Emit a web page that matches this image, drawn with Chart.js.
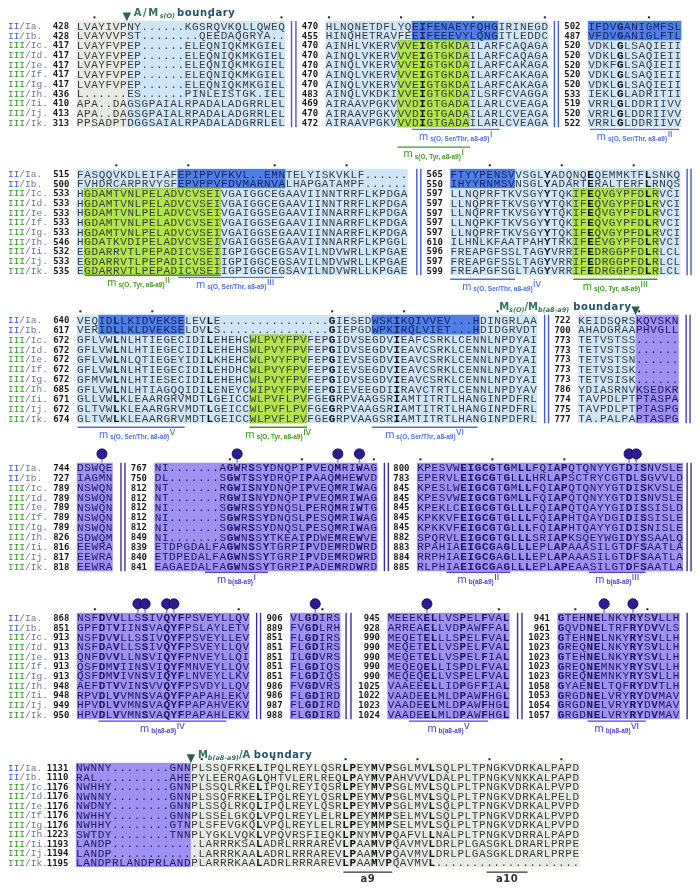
<!DOCTYPE html>
<html><head><meta charset="utf-8">
<script src="https://cdn.jsdelivr.net/npm/chart.js@4/dist/chart.umd.min.js"></script>
<style>html,body{margin:0;padding:0;background:#fff}#wrap{width:700px;height:890px;position:relative}</style>
</head><body><div id="wrap"><canvas id="c"></canvas></div>
<script>
// ---------------- DATA ----------------
const rowNames = ["II/Ia.","II/Ib.","III/Ic.","III/Id.","III/Ie.","III/If.","III/Ig.","III/Ih.","III/Ii.","III/Ij.","III/Ik."];

const b1s1Start = [428,428,417,417,417,417,417,436,410,413,313];
const b1s1Seq = ["LVAYIVPNY......KGSRQVKQLLQWEQ","LVAYVVPST........QEEDAQGRYA..","LVAYFVPEP......ELEQNIQKMKGIEL","LVAYFVPEP......ELEQNIQKMKGIEL","LVAYFVPEP......ELEQNIQKMKGIEL","LVAYFVPEP......ELEQNIQKMKGIEL","LVAYFVPEP......ELEQNIQKMKGIEL","L......ES......PINLEISTGK.IEL","APA..DAGSGPAIALRPADALADGRRLEL","APA..DAGSGPAIALRPADALADGRRLEL","PPSADPTDGGSAIALRPADALADGRRLEL"];
const b1s2Start = [470,455,470,470,470,470,470,483,469,470,472];
const b1s2Seq = ["HLNQNETDFLYQEIFENAEYFQHGIRINEGD","HINQHETRAVFEEIFEEEVYLQNGITLEDDC","AINHLVKERVVVEIGTGKDAILARFCAQAGA","AINQLVKERVVVEIGTGKDAILARFCAQAGA","AINQLVKERVVVEIGTGKDAILARFCAKAGA","AINQLVKERVVVEIGTGKDAILARFCAKAGA","AINQLVKERVVVEIGTGKDAILARFCAKAGA","AINQLVKDKIVVEIGTGKDAILSRFCVAGGA","AIRAAVPGKVVVDIGTGADAILARLCVEAGA","AIRAAVPGKVVVDIGTGADAILARLCVEAGA","AIRAAVPGKVVVDIGTGADAILARLCVEAGA"];
const b1s3Start = [502,487,520,520,520,520,520,533,519,520,522];
const b1s3Seq = ["IFDVGANIGMFSL","VFDVGANIGLFTL","VDKLGLSAQIEII","VDKLGLSAQIEII","VDKFGLSAQIEII","VDKLGLSAQIEII","VDKLGLSAQIEII","IEKLGLADRITII","VRRLGLDDRIIVV","VRRLGLDDRIIVV","VRRLGLDDRIIVV"];

const b2s1Start = [515,500,533,533,533,533,533,546,532,533,535];
const b2s1Seq = ["FASQQVKDLEIFAFEPIPPVFKVL..EMNTELYISKVKLF......","FVHDRCARPRVYSFEPVPPVFDVMARNVALHAPGATAMPF......","HGDAMTVNLPELADVCVSEIVGAIGGCEGAAVIINNTRRFLKPDGA","HGDAMTVNLPELADVCVSEIVGAIGGCEGAAVIINNTRRFLKPDGA","HGDAMTVNLPELADVCVSEIVGAIGGSEGAAVIINNARRFLKPDGA","HGDAMTVNLPELADVCVSEIVGAIGGSEGAAVIINNARRFLKPDGA","HGDAMTVNLPELADVCVSEIVGAIGGSEGAAVIINNARRFLKPDGA","HGDATKVDIPELADVCVSEIVGAIGGSEGAAVIINNARRFLKPGGL","EGDARRVTLPEPADICVSEIIGPIGGCEGSAVILNDVWRLLKPGAE","EGDARRVTLPEPADICVSEIIGPIGGCEGSAVILNDVWRLLKPGAE","EGDARRVTLPEPADICVSEIIGPIGGCEGSAVILNDVWRLLKPGAE"];
const b2s2Start = [565,550,597,597,597,597,597,610,596,597,599];
const b2s2Seq = ["FTYYPENSVVSGLYADQNQEQEMMKTFLSNKQ","IHYYRNMSVNSGLYADARTERALTERFLRNQS","LLNQPRFTKVSGYYTQKIFEQVGYPFDLRVCI","LLNQPRFTKVSGYYTQKIFEQVGYPFDLRVCI","LLNQPRFTKVSGYYTQKIFEQVGYPFDLRVCI","LLNQPKFTKVSGYYTQKIFEQVGYPFDLRVCI","LLNQPRFTKVSGYYTQKIFEQVGYPFDLRVCI","ILHNLKFAATPAHYTRKIFEEVGYPFDLRVCI","FREAPGFSSLTAGYVRRIFEDRGGPFDLRLCL","FREAPGFSSLTAGYVRRIFEDRGGPFDLRLCL","FREAPGFSGLTAGYVRRIFEDRGGPFDLRLCL"];

const b3s1Start = [640,617,672,672,672,672,672,685,671,672,674];
const b3s1Seq = ["VEQIDLLKIDVEKSELEVLE...............GIESEDWSKIKQIVVEV...HDINGRLAA","VERIDLLKLDVEKSELDVLS...............GIEPGDWPKIRQLVIET...HDIDGRVDT","GFLVWLNLHTIEGECIDILEHEHCWLPVYFPVFEPGIDVSEGDVIEAFCSRKLCENNLNPDYAI","GFLVWLNLHTIEGECIDILEHEHSWLPVYFPVFEPGIDVSEGDVIEAVCSRKLCENNLNPDYAI","GFLVWLNLQTIEGEYIDILKHEHCWLPVYFPVFEPGIEVSEGDVIEAVCSRKLCENNLNPDYAI","GFLVWLNLHTIEGECIDILEHDHCWLPVYFPVFEPGIEVSEGDVIEAVCSRKLCENNLNPDYAI","GFMVWLNLHTIESECIDILEHEHCWLPVYFPVFEPGIDVSEGDVIEAVCSRKLCENNLNPDYAI","GFLVWLNLHTIAGQQIDILENEYCWIPVYFPVFEPGIEVEEGDIIRAVCTRTLCENNLNPDYAV","GLLVWLKLEAARGRVMDTLGEICCWLPVFLPVFGEGRPVAAGSRIAMTITRTLHANGINPDFRL","GLTVWLKLEAARGRVMDTLGEICCWLPVFLPVFGEGRPVAAGSRIAMTITRTLHANGINPDFRL","GLTVWLKLEAARGRVMDTLGEICCWLPVFLPVFGEGRPVAAGSRIAMTITRTLHANGINPDFRL"];
const b3s2Start = [722,700,773,773,773,773,773,786,774,775,777];
const b3s2Seq = ["KEIDSQRSKQVSKN","AHADGRAAPHVGLL","TETVSTSS......","TETVSTSS......","TETVSTSN......","TETVSISK......","TETVSISK......","YDIASRNVKSEDKR","TAVPDLPTPTASPA","TAVPDLPTPTASPG","TA.PALPAPTASPG"];

const b4s1Start = [744,727,789,789,789,789,789,826,816,817,818];
const b4s1Seq = ["DSWQE","IAGMN","NSWQN","NSWQN","NSWQN","NSWQN","NSWQN","SDWQM","EEWRA","EEWRA","EEWRA"];
const b4s2Start = [767,750,812,812,812,812,812,849,839,840,841];
const b4s2Seq = ["NI.......AGWRSSYDNQPIPVEQMRIWAG","DL.......SGWTSSYDRQPIPAAQMHEWVD","NT.......RGWISNYDNQPIPVEQMRIWAG","NT.......RGWISNYDNQPIPVEQMRIWAG","NI.......SGWRSSYDNQSLPERQMRIWTG","NI.......SGWRSSYDNQSLPESQMRIWAG","NI.......SGWRSSYDNQSLPESQMRIWAG","NI.......SGWNSSYTKEAIPDWEMREWVE","ETDPGDALFAGWNSSYTGRPIPVDEMRDWRD","ETDPEDALFAGWNSSYTGRPIPVDEMRDWRD","EAGAEDALFAGWNSSYTGRPIPADEMRDWRD"];
const b4s3Start = [800,783,845,845,845,845,845,882,883,884,885];
const b4s3Seq = ["KPESVWEIGCGTGMLLFQIAPQTQNYYGTDISNVSLE","EPERVLEIGCGTGLLLHRLAPSCTRYCGTDLSGVVLD","KPESLWEIGCGTGMLLFQIAPQTQNYYGTDISKVSLE","KPESVWEIGCGTGMLLFQIAPQTQNYYGTDISNVSLE","KPEKLCEIGCGTGLLLFQIAPQTQAYYGIDISSISLD","KPKKVFEIGCGTGLLLFQIAPHTQAYDGIDISSISLE","KPKKVFEIGCGTGLLLFQIAPHTQAYYGIDISNISLE","SPQRVLEIGCGTGLLLSRIAPKSQEYWGIDYSSAALQ","RPAHIAEIGCGAGLLLEPLAPAAASILGTDFSAATLA","RRPHIAEIGCGAGLLLEPLAPAAASILGTDFSAATLA","RLPHIAEIGCGAGLLLEPLAPEAASILGTDFSAATLA"];

const b5s1Start = [868,851,913,913,913,913,913,948,948,949,950];
const b5s1Seq = ["NSFDVVLLSSIVQYFPSVEYLLQV","GPFDTVIINSVAQYFPSLAYLETV","NSFDVVLLSSIVQYFPSVEYLLEV","NSFDAVLLSSIVQYFPSVEYLLQV","QNFDVVLLNSVIQYFPNVEYLLQI","QSFDMVIINSVIQYFMNVEYLLQV","QSFDMVIVNSVIQYFLNVEYLLKV","AEFDTVVINSVVQYFPSVDYLLQV","RPVDLVVMNSVAQYFPAPAHLEKV","HPVDLVVMNSVAQYFPAPAHVEKV","HPVDLVVMNSVAQYFPAPAHLEKV"];
const b5s2Start = [906,889,851,851,851,851,851,986,986,987,988];
const b5s2Seq = ["VLGDIRS","FVGDLRH","FLGDIRS","FLGDIRS","ILGDVRS","FLGDIQS","FLGDIQS","FVGDVRS","FLGDIRD","FLGDIRD","FLGDIRD"];
const b5s3Start = [945,928,990,990,990,990,990,1025,1022,1023,1024];
const b5s3Seq = ["MEEEKELLVSPELFVAL","ARREAELLVDPAWFFAL","MEQETELLLSPELFVAL","MEQETELLVSPELFVAL","MEQETELLVSPELFIAL","MEQEQELLISPDLFVAL","MEQEQELLVSPELFVAL","VAAEEELLIDPGFFIAL","VAADEELMLDPAWFHGL","VAADEELMLDPAWFHGL","VAADEELMLDPAWFHGL"];
const b5s4Start = [941,961,1023,1023,1023,1023,1023,1058,1053,1054,1057];
const b5s4Seq = ["GTEHNELNKYRYSVLLH","GQVDNELTRFRYDVVLS","GTEHNELNKYRYSVLLH","GREQNELNKYRYSVLLH","GTEHNELNKYRYSVLLH","GREQNEMNKYRYSVLLH","GREQNEMNKYRYSVLLH","GYAENELTQFRYDVTLH","GRGDNELVRYRYDVMAV","GRGDNELVRYRYDVMAV","GRGDNELVRYRYDVMAV"];

const b6Start = [1131,1110,1176,1176,1176,1176,1176,1223,1193,1194,1195];
const b6Seq = ["NWNNY........GNNPLSSQFRKELIPQLREYLQSRLPEYMVPSGLMVLSQLPLTPNGKVDRKALPAPD","RAL..........AHEPYLEERQAGLQHTVLERLREQLPAYMVPAHVVVLDALPLTPNGKVNKKALPAPD","NWHHY........GNNPLSSQLRKELIPQLREYIQSRLPEYMVPSGLMVLSQLPLTPNGKVDRKALPVPD","NWNNY........GNNPLSSQFRKELIPQLREYLQSRLPEYMVPSGLMVLSQLPLTPNGKVDRKALPELD","NWDNY........GNNPLSSQLRKQLIPQLREYLQSRLPEYMVPSGLMVLSQLPLTPNGKVDRKALPVPD","NWHHY........GNNPLSSELGKQLVPQLREYLELRLPEYMMPSELMVLSQLPLTPNGKVDRKALPVPD","NWHHY........GTNPLSFEVGKQLVPQLREYLELRLPEYMMPSELMVLSQLPLTPNGKVDRKALPVPD","SWTDY........TNNPLYGKLVQKLVPQVRSFIEQKLPNYMVPQAFVLLNALPLTPNGKVDRRALPAPD","LANDP............LARRRKSALADRLRRRAREVLPAAMVPQAVMVLDRLPLGASGKLDRARLPRPE","LANDP............LARRRKAALADRLRRRAREVLPAAMVPQAVMVLDRLPLGASGKLDRARLPRPE","LANDPRLANDPRLANDPLARRRKAALADRLRRRAREVLPAAMVPQAVMVL...................."];

// conserved (bold) columns and modification pins, per segment
const boldB1S2 = [13], boldB1S3 = [4], boldB2S2 = [13,19,27], boldB3S1 = [5,18,35,44];
const boldB4S2 = [10,11,13,15,21,25,28], boldB4S3 = [6,7,8,9,10,12,14,15,19,20,29,31];
const boldB5S1 = [3,5,9,12,13,14], boldB5S2 = [2,3], boldB5S3 = [5,6,10,13,16], boldB5S4 = [0,4,5,10,11,13];
const boldB6 = [25,37,38,41,43,49];
const pinsB4S1 = [3], pinsB4S2 = [11,25,28], pinsB4S3 = [29,30];
const pinsB5S1 = [8,9,12,13], pinsB5S2 = [3], pinsB5S3 = [5], pinsB5S4 = [6,10];
const dotsB5S4 = [2,12];

// ---------------- LAYOUT / STYLE ----------------
const CW = 7.32;
const FILL = {LB:'#cfe6f8', GR:'#e8ebe5', DB:'#4f7ee6', GN:'#b1e64b', PU:'#9f90f2'};
const BLUE_T = '#4a6fe3', GREEN_T = '#3f9b1f', PURP_T = '#4f3fd0';
const blocks = [
  {y0:20, p:9.8, seps:[[290.5,'#4657cf'],[295,'#4657cf'],[558,'#4657cf'],[562,'#4657cf']]},
  {y0:170, p:9.8, seps:[[418,'#4657cf'],[422,'#4657cf'],[693,'#4657cf'],[697,'#4657cf']]},
  {y0:318, p:10, seps:[[548,'#4657cf'],[552,'#4657cf'],[692,'#4a3ab8'],[696,'#4a3ab8']]},
  {y0:468, p:10, seps:[[117,'#3b2ca0'],[121,'#3b2ca0'],[385,'#3b2ca0'],[389,'#3b2ca0'],[693,'#3b2ca0'],[697,'#3b2ca0']]},
  {y0:620, p:9.8, seps:[[255,'#3b2ca0'],[259,'#3b2ca0'],[346,'#3b2ca0'],[351,'#3b2ca0'],[520.5,'#3b2ca0'],[525,'#3b2ca0'],[693,'#3b2ca0']]},
  {y0:772, p:9.6, seps:[]}
];
const segments = [
  {b:0, x0:71.7, seq:b1s1Seq, start:b1s1Start, reg:[[0,10,0,6,'GR'],[0,10,7,28,'LB']]},
  {b:0, x0:325, seq:b1s2Seq, start:b1s2Start, reg:[[0,10,0,30,'LB'],[0,1,12,23,'DB'],[2,10,10,19,'GN']], bold:boldB1S2},
  {b:0, x0:592, seq:b1s3Seq, start:b1s3Start, reg:[[0,10,0,12,'LB'],[0,1,0,12,'DB']], bold:boldB1S3},
  {b:1, x0:72, seq:b2s1Seq, start:b2s1Start, reg:[[0,10,0,45,'LB'],[0,1,14,28,'DB'],[2,10,1,19,'GN']]},
  {b:1, x0:452, seq:b2s2Seq, start:b2s2Start, reg:[[0,10,0,31,'LB'],[0,1,0,8,'DB'],[2,10,17,28,'GN']], bold:boldB2S2},
  {b:2, x0:72, seq:b3s1Seq, start:b3s1Start, reg:[[0,10,0,63,'LB'],[0,1,3,14,'DB'],[0,1,41,55,'DB'],[2,10,24,31,'GN']], bold:boldB3S1},
  {b:2, x0:582, seq:b3s2Seq, start:b3s2Start, reg:[[0,10,0,7,'LB'],[0,10,8,13,'PU']]},
  {b:3, x0:72, seq:b4s1Seq, start:b4s1Start, reg:[[0,10,0,4,'PU']], pins:pinsB4S1},
  {b:3, x0:151, seq:b4s2Seq, start:b4s2Start, reg:[[0,10,0,30,'PU']], bold:boldB4S2, pins:pinsB4S2},
  {b:3, x0:418, seq:b4s3Seq, start:b4s3Start, reg:[[0,10,0,36,'PU']], bold:boldB4S3, pins:pinsB4S3},
  {b:4, x0:72, seq:b5s1Seq, start:b5s1Start, reg:[[0,10,0,23,'PU']], bold:boldB5S1, pins:pinsB5S1},
  {b:4, x0:289, seq:b5s2Seq, start:b5s2Start, reg:[[0,10,0,6,'PU']], bold:boldB5S2, pins:pinsB5S2},
  {b:4, x0:388, seq:b5s3Seq, start:b5s3Start, reg:[[0,10,0,16,'PU']], bold:boldB5S3, pins:pinsB5S3},
  {b:4, x0:561, seq:b5s4Seq, start:b5s4Start, reg:[[0,10,0,16,'PU']], bold:boldB5S4, pins:pinsB5S4, dots:dotsB5S4},
  {b:5, x0:71, seq:b6Seq, start:b6Start, reg:[[0,10,0,15,'PU'],[0,10,16,69,'GR']], bold:boldB6}
];
const SST = 's(O, Ser/Thr, a8-a9)', STY = 's(O, Tyr, a8-a9)', SB = 'b(a8-a9)';
const motifs = [
  {s:1, c0:12, c1:24.2, y:125, col:BLUE_T, sub:SST, sup:'i'},
  {s:1, c0:10, c1:20.1, y:143, col:GREEN_T, sub:STY, sup:'i'},
  {s:2, c0:0.3, c1:12.7, y:125, col:BLUE_T, sub:SST, sup:'ii'},
  {s:3, c0:1.1, c1:20, y:273, col:GREEN_T, sub:STY, sup:'ii', dx:-14},
  {s:3, c0:14.1, c1:28.8, y:275, col:BLUE_T, sub:SST, sup:'iii', dx:4},
  {s:4, c0:0, c1:9, y:277, col:BLUE_T, sub:SST, sup:'iv', dx:19},
  {s:4, c0:17.1, c1:28.8, y:277, col:GREEN_T, sub:STY, sup:'iii'},
  {s:5, c0:0.1, c1:15, y:427, col:BLUE_T, sub:SST, sup:'v', dx:6},
  {s:5, c0:24, c1:32, y:427, col:GREEN_T, sub:STY, sup:'iv'},
  {s:5, c0:41, c1:55.7, y:427, col:BLUE_T, sub:SST, sup:'vi'},
  {s:8, c0:7, c1:15.8, y:574, col:PURP_T, sub:SB, sup:'i'},
  {s:9, c0:4.1, c1:13, y:574, col:PURP_T, sub:SB, sup:'ii'},
  {s:9, c0:23.9, c1:31.8, y:574, col:PURP_T, sub:SB, sup:'iii'},
  {s:10, c0:3, c1:20.8, y:725, col:PURP_T, sub:SB, sup:'iv'},
  {s:12, c0:3, c1:14, y:725, col:PURP_T, sub:SB, sup:'v'},
  {s:13, c0:4.2, c1:12.3, y:725, col:PURP_T, sub:SB, sup:'vi'},
  {s:14, c0:37.2, c1:44, y:878, col:'#333', plain:'a9'},
  {s:14, c0:57.1, c1:62.8, y:878, col:'#333', plain:'a10'}
];
const HC1 = '#2f7358', HC2 = '#24506a';
const MAINF = 'bold 10px "DejaVu Sans"', SUBF = 'italic bold 6.5px "DejaVu Sans"';
const headers = [
  {s:0, c:7, side:'right', parts:[{t:'A/M',f:MAINF,c:HC1,ls:1.5},{t:'s(O)',f:SUBF,c:HC1,dy:2.5,g:2},{t:'boundary',f:MAINF,c:HC2,ls:0.6}]},
  {s:6, c:8, side:'left', parts:[{t:'M',f:MAINF,c:HC1},{t:'s(O)',f:SUBF,c:HC1,dy:2.5},{t:'/M',f:MAINF,c:HC1},{t:'b(a8-a9)',f:SUBF,c:HC1,dy:2.5,g:4},{t:'boundary',f:MAINF,c:HC2,ls:0.6}]},
  {s:14, c:16, side:'right', parts:[{t:'M',f:MAINF,c:HC1},{t:'b(a8-a9)',f:SUBF,c:HC1,dy:2.5},{t:'/A ',f:MAINF,c:HC1},{t:'boundary',f:MAINF,c:HC2,ls:0.6}]}
];

// pins as a scatter dataset placed through the scales
const pinPoints = [];
segments.forEach(s => (s.pins||[]).forEach(c => pinPoints.push({x: s.x0 + (c + 0.5) * CW, y: blocks[s.b].y0 - 14})));

function rich(ctx, x, y, parts, align) {
  let w = 0;
  parts.forEach(p => { ctx.font = p.f; ctx.letterSpacing = (p.ls||0) + 'px'; p.w = ctx.measureText(p.t).width; w += p.w + (p.g||0); });
  let sx = align === 'center' ? x - w/2 : (align === 'right' ? x - w : x);
  ctx.textAlign = 'left';
  parts.forEach(p => { ctx.font = p.f; ctx.letterSpacing = (p.ls||0) + 'px'; ctx.fillStyle = p.c; ctx.fillText(p.t, sx, y + (p.dy||0)); sx += p.w + (p.g||0); });
  ctx.letterSpacing = '0px';
}

const alignPlugin = {
  id: 'alignment',
  beforeDraw(chart) { const c = chart.ctx; c.save(); c.fillStyle = '#fff'; c.fillRect(0,0,chart.width,chart.height); c.restore(); },
  beforeDatasetsDraw(chart) {
    const ctx = chart.ctx, xs = chart.scales.x, ys = chart.scales.y;
    const X = v => xs.getPixelForValue(v), Y = v => ys.getPixelForValue(v);
    ctx.save();
    ctx.textBaseline = 'alphabetic';
    // backgrounds
    segments.forEach(s => {
      const B = blocks[s.b];
      s.reg.forEach(([r0,r1,c0,c1,f]) => {
        const x1 = X(s.x0 + c0*CW), x2 = X(s.x0 + (c1+1)*CW);
        const y1 = Y(B.y0 + r0*B.p - B.p/2), y2 = Y(B.y0 + r1*B.p + B.p/2);
        ctx.fillStyle = FILL[f]; ctx.fillRect(x1, y1, x2-x1, y2-y1);
        if (f === 'GN') { ctx.setLineDash([1,1.5]); ctx.strokeStyle = '#6c9d2c'; ctx.lineWidth = 1; ctx.strokeRect(x1+0.5, y1+0.5, x2-x1-1, y2-y1-1); ctx.setLineDash([]); }
      });
    });
    // separators
    blocks.forEach(B => {
      B.seps.forEach(([x, col]) => {
        ctx.strokeStyle = col; ctx.lineWidth = 1.4;
        ctx.beginPath(); ctx.moveTo(X(x), Y(B.y0 - B.p/2)); ctx.lineTo(X(x), Y(B.y0 + 10*B.p + B.p/2)); ctx.stroke();
      });
    });
    // names
    blocks.forEach(B => {
      rowNames.forEach((nm, r) => {
        const k = nm.indexOf('/');
        const pre = nm.slice(0,k), rest = nm.slice(k);
        const yy = Y(B.y0 + r*B.p) + 3.3;
        ctx.font = '9.5px "Liberation Mono"'; ctx.textAlign = 'left';
        ctx.fillStyle = pre === 'II' ? '#3d5bd6' : '#3a9a2a';
        ctx.fillText(pre, X(2), yy);
        const w = ctx.measureText(pre).width;
        ctx.fillStyle = '#6b7890';
        ctx.fillText(rest, X(2) + w, yy);
      });
    });
    // residues, numbers, dots
    segments.forEach(s => {
      const B = blocks[s.b];
      const bold = s.bold || [];
      s.seq.forEach((row, r) => {
        const yc = B.y0 + r*B.p;
        ctx.font = 'bold 9px "DejaVu Sans Mono"'; ctx.textAlign = 'right'; ctx.fillStyle = '#1a1a1a';
        ctx.fillText(String(s.start[r]), X(s.x0 - 7.5), Y(yc) + 3.3);
        ctx.textAlign = 'center';
        for (let c = 0; c < row.length; c++) {
          const ch = row[c];
          let f = null;
          s.reg.forEach(([r0,r1,c0,c1,ff]) => { if (r >= r0 && r <= r1 && c >= c0 && c <= c1) f = ff; });
          const isB = ch !== '.' && bold.includes(c);
          ctx.font = (isB ? 'bold ' : '') + '11px "Liberation Mono"';
          ctx.fillStyle = f === 'DB' ? '#13245c' : (f === 'PU' ? '#1d1560' : (isB ? '#111' : '#3b3b3b'));
          ctx.fillText(ch, X(s.x0 + (c + 0.5)*CW), Y(yc) + 3.8);
        }
      });
      // ruler dots every 10 residues of the first sequence
      let dcols = s.dots;
      if (!dcols) {
        dcols = []; let n = s.start[0];
        for (let c = 0; c < s.seq[0].length; c++) { if (s.seq[0][c] !== '.') { if (n % 10 === 0) dcols.push(c); n++; } }
      }
      ctx.fillStyle = '#222';
      dcols.forEach(c => { ctx.fillRect(X(s.x0 + (c + 0.5)*CW) - 1, Y(B.y0 - 8.5) - 1, 2, 2); });
      // pin stems
      (s.pins||[]).forEach(c => {
        ctx.strokeStyle = '#7d97a6'; ctx.lineWidth = 1.5;
        ctx.beginPath(); ctx.moveTo(X(s.x0 + (c + 0.5)*CW), Y(B.y0 - 14)); ctx.lineTo(X(s.x0 + (c + 0.5)*CW), Y(B.y0 - B.p/2)); ctx.stroke();
      });
    });
    // motif lines and labels
    motifs.forEach(m => {
      const s = segments[m.s];
      const xa = X(s.x0 + m.c0*CW), xb = X(s.x0 + m.c1*CW);
      ctx.strokeStyle = m.col; ctx.lineWidth = 1.3;
      ctx.beginPath(); ctx.moveTo(xa, Y(m.y)); ctx.lineTo(xb, Y(m.y)); ctx.stroke();
      const cx = (xa + xb)/2 + (m.dx||0);
      if (m.plain) {
        rich(ctx, cx, Y(m.y + 10), [{t:m.plain, f:'bold 10px "DejaVu Sans"', c:m.col, ls:0.5}], 'center');
      } else {
        rich(ctx, cx, Y(m.y + 10.5), [
          {t:'m', f:'11px "Liberation Sans"', c:m.col, g:2},
          {t:m.sub, f:'bold 6.5px "Liberation Sans"', c:m.col, dy:1.5, g:0.5},
          {t:m.sup, f:'11px "Liberation Sans"', c:m.col, dy:-2.5}
        ], 'center');
      }
    });
    // boundary headers
    headers.forEach(h => {
      const s = segments[h.s], B = blocks[s.b];
      const tx = X(s.x0 + h.c*CW), ty = B.y0;
      ctx.fillStyle = '#2a5f55';
      ctx.beginPath(); ctx.moveTo(tx - 4.2, Y(ty - 13.5)); ctx.lineTo(tx + 4.2, Y(ty - 13.5)); ctx.lineTo(tx, Y(ty - 4.5)); ctx.closePath(); ctx.fill();
      if (h.side === 'right') rich(ctx, tx + 7, Y(ty - 10), h.parts, 'left');
      else rich(ctx, tx - 4, Y(ty - 10), h.parts, 'right');
    });
    ctx.restore();
  }
};

new Chart(document.getElementById('c'), {
  type: 'scatter',
  data: { datasets: [{ data: pinPoints, pointRadius: 5, pointHoverRadius: 5, backgroundColor: '#2d1b94', borderColor: '#1a0f6a', borderWidth: 1 }] },
  options: {
    responsive: true, maintainAspectRatio: false, animation: false, events: [],
    layout: { padding: 0 },
    plugins: { legend: { display: false }, tooltip: { enabled: false } },
    scales: {
      x: { type: 'linear', min: 0, max: 700, display: false },
      y: { type: 'linear', min: 0, max: 890, reverse: true, display: false }
    }
  },
  plugins: [alignPlugin]
});
</script>
</body></html>
